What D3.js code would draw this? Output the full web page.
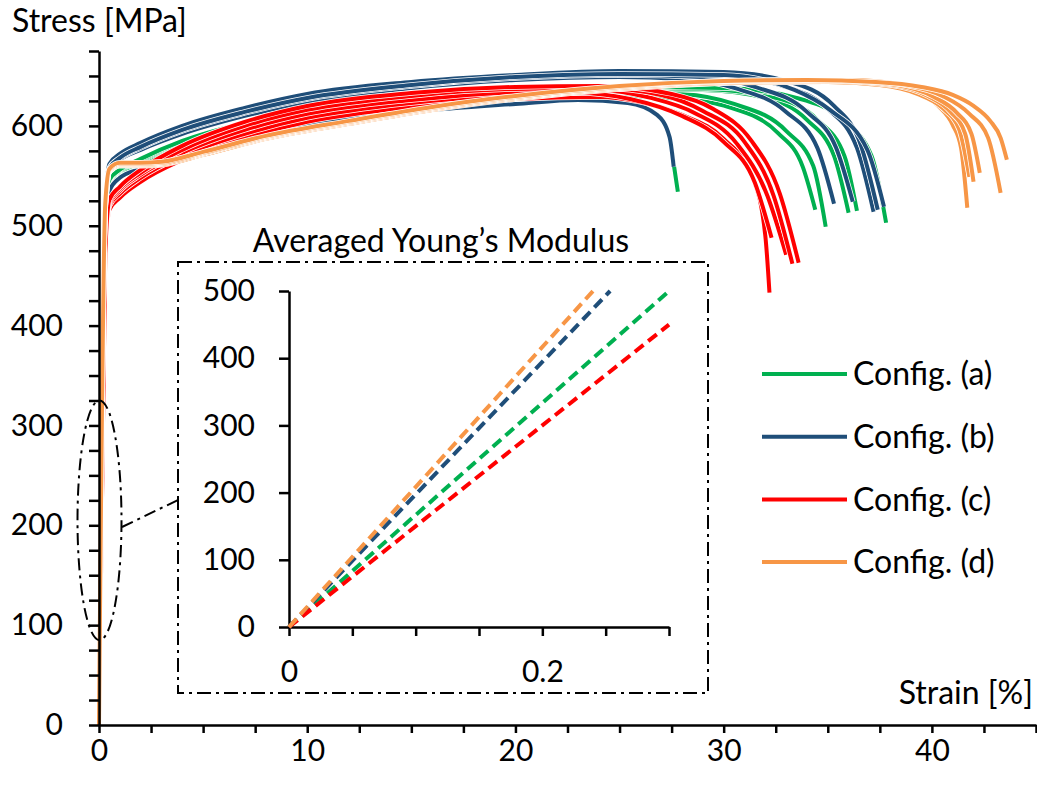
<!DOCTYPE html>
<html>
<head>
<meta charset="utf-8">
<script src="https://cdn.jsdelivr.net/npm/d3@7"></script>
<style>
  body { margin: 0; background: #fff; }
  svg { display: block; font-family: Lato, "Open Sans", sans-serif; }
  .axis path, .axis line { stroke: #000; stroke-width: 2.5; }
  .axis text { font-size: 30px; fill: #000; font-family: Lato, sans-serif; }
</style>
</head>
<body>
<svg id="chart" width="1037" height="787"></svg>
<script>
// configs + colours
var configs = ["Config. (a)", "Config. (b)", "Config. (c)", "Config. (d)"];
var colors = ["#00b050", "#1f4e79", "#ff0000", "#f79646"];

// tensile curves, [strain %, stress MPa]
var curvesA = [
  [[0,0],[0.3,480],[0.5,535],[1,548],[2,557],[4,571],[7,588],[10,601],[15,614],[20,622],[23,626],[25.4,623],[26.8,611],[27.4,589],[27.6,562],[27.8,534]],
  [[0,0],[0.3,490],[0.5,540],[1,551],[2,560],[4,576],[7,594],[10,607],[15,620],[20,628],[25,630],[28,627],[30.2,619],[32.6,593],[33.8,559],[34.4,516]],
  [[0,0],[0.3,495],[0.5,542],[1,553],[2,563],[4,580],[7,598],[10,611],[15,624],[20,631],[25,634],[28,632],[30.5,622],[33,595],[34.3,560],[34.9,499]],
  [[0,0],[0.3,495],[0.5,543],[1,554],[2,565],[4,583],[7,601],[10,614],[15,627],[20,634],[25,637],[29,636],[32,628],[34,606],[35.3,570],[36.0,513]],
  [[0,0],[0.3,498],[0.5,545],[1,555],[2,566],[4,584],[7,602],[10,615],[15,628],[20,635],[25,638],[29,637],[32.5,628],[34.5,606],[35.8,570],[36.4,515]],
  [[0,0],[0.3,500],[0.5,546],[1,556],[2,567],[4,585],[7,603],[10,616],[15,629],[20,636],[25,639],[30,638],[33.5,628],[35.7,606],[37.1,570],[37.8,503]]
];
var curvesB = [
  [[0,0],[0.3,480],[0.5,535],[1,548],[2,557],[4,571],[7,588],[10,601],[15,614],[20,622],[23,626],[25.4,623],[26.8,611],[27.4,589],[27.6,559]],
  [[0,0],[0.3,510],[0.5,555],[1,566],[2,576],[4,592],[7,610],[10,624],[15,638],[20,646],[25,649],[28,647],[30.5,638],[33,614],[34.5,578],[35.3,522]],
  [[0,0],[0.3,512],[0.5,557],[1,567],[2,578],[4,595],[7,613],[10,627],[15,640],[20,648],[25,651],[29,649],[31.5,639],[34,614],[35.4,578],[36.2,524]],
  [[0,0],[0.3,515],[0.5,559],[1,569],[2,580],[4,597],[7,615],[10,629],[15,642],[20,650],[25,653],[29.5,652],[32.5,642],[35,617],[36.4,578],[37.2,514]],
  [[0,0],[0.3,518],[0.5,562],[1,572],[2,583],[4,600],[7,618],[10,632],[15,644],[20,651],[25,655],[30,654],[33,645],[35.3,620],[36.6,580],[37.4,516]],
  [[0,0],[0.3,514],[0.5,558],[1,568],[2,579],[4,596],[7,614],[10,628],[15,641],[20,649],[25,652],[30,651],[33.4,636],[35.1,616],[36.9,576],[37.7,519]]
];
var curvesC = [
  [[0,0],[0.3,460],[0.5,516],[1,528],[2,544],[4,566],[7,588],[10,604],[15,619],[20,627],[24,629],[26,624],[28,611],[30,587],[31.4,548],[32.0,490],[32.2,433]],
  [[0,0],[0.3,465],[0.5,520],[1,532],[2,548],[4,570],[7,592],[10,608],[15,623],[20,631],[23,633],[25.5,627],[28,610],[30,584],[31.5,543],[32.3,488]],
  [[0,0],[0.3,468],[0.5,522],[1,535],[2,551],[4,573],[7,596],[10,612],[15,626],[20,634],[24,636],[26.5,628],[28.6,613],[30.6,583],[32.1,530],[33.0,471]],
  [[0,0],[0.3,470],[0.5,524],[1,537],[2,553],[4,576],[7,600],[10,616],[15,630],[20,637],[24,638],[27,631],[29,615],[31,584],[32.4,530],[33.3,462]],
  [[0,0],[0.3,472],[0.5,526],[1,539],[2,556],[4,580],[7,604],[10,620],[15,633],[20,639],[24,640],[27.5,632],[29.5,617],[31.3,586],[32.7,532],[33.6,463]]
];
var curvesD = [
  [[0,0],[0.3,518],[0.5,554],[1,560],[2,560],[3,561],[5,571],[8,587],[12,602],[16,616],[20,627],[25,637],[30,643],[35,645],[37,643],[39,635],[40.3,620],[41,601],[41.4,578],[41.7,518]],
  [[0,0],[0.3,518],[0.5,555],[1,561],[2,561],[3,562],[5,572],[8,588],[12,603],[16,617],[20,628],[25,638],[30,643],[35,644],[37.5,641],[39.3,632],[40.5,618],[41.3,597],[41.8,549]],
  [[0,0],[0.3,520],[0.5,555],[1,561],[2,561],[3,562],[5,572],[8,588],[12,603],[16,617],[20,628],[25,638],[30,644],[35,645],[38,641],[39.8,630],[40.9,614],[41.6,592],[42.0,544]],
  [[0,0],[0.3,520],[0.5,556],[1,562],[2,562],[3,563],[5,573],[8,589],[12,604],[16,618],[20,629],[25,639],[30,645],[35,646],[38.3,641],[40.1,629],[41.2,613],[41.9,592],[42.3,553]],
  [[0,0],[0.3,522],[0.5,556],[1,562],[2,562],[3,563],[5,573],[8,589],[12,604],[16,618],[20,629],[25,639],[30,645],[36,646],[38.7,641],[40.5,630],[41.8,612],[42.7,588],[43.3,533]],
  [[0,0],[0.3,522],[0.5,557],[1,563],[2,563],[3,564],[5,574],[8,590],[12,605],[16,619],[20,630],[25,640],[30,645],[34,646],[37.3,644],[39.5,639],[41,631],[42,620],[42.8,605],[43.3,588],[43.6,566]]
];
var groups = [curvesA, curvesB, curvesC, curvesD];

// inset: averaged young's modulus lines, end points from the origin
var insetEndStrain = [0.3, 0.2535, 0.3, 0.24];
var insetEndStress = [500, 500, 450, 500];

var svg = d3.select("#chart");

var x = d3.scaleLinear().domain([0, 45]).range([99, 1036]);
var y = d3.scaleLinear().domain([0, 675]).range([725, 51]);

var line = d3.line()
  .x(function(d) { return x(d[0]); })
  .y(function(d) { return y(d[1]); })
  .curve(d3.curveMonotoneX);

// curves, each with a thin white edge
groups.forEach(function(g, i) {
  g.forEach(function(c) {
    svg.append("path").attr("d", line(c))
      .attr("fill", "none").attr("stroke", "#fff").attr("stroke-width", 5.5)
      .attr("stroke-linejoin", "round");
    svg.append("path").attr("d", line(c))
      .attr("fill", "none").attr("stroke", colors[i]).attr("stroke-width", 4)
      .attr("stroke-linejoin", "round");
  });
});

// main axes
svg.append("g").attr("class", "axis")
  .attr("transform", "translate(" + x(0) + ",0)")
  .call(d3.axisLeft(y).tickValues(d3.range(0, 676, 25)).tickSize(10).tickSizeOuter(0).tickPadding(26)
    .tickFormat(function(d) { return d % 100 === 0 ? d : ""; }));

svg.append("g").attr("class", "axis")
  .attr("transform", "translate(0," + y(0) + ")")
  .call(d3.axisBottom(x).tickValues(d3.range(0, 45.1, 2.5)).tickSize(8).tickSizeOuter(0).tickPadding(7)
    .tickFormat(function(d) { return d % 10 === 0 ? d : ""; }));

svg.append("text").attr("x", 12).attr("y", 32).attr("font-size", 32).text("Stress [MPa]");
svg.append("text").attr("x", 1033).attr("y", 704).attr("font-size", 32)
  .attr("text-anchor", "end").text("Strain [%]");

// zoom ellipse and connector
var dashDot = "12,5,3,5";
svg.append("ellipse")
  .attr("cx", x(0) + 0.5).attr("cy", (y(85) + y(325)) / 2)
  .attr("rx", 22).attr("ry", (y(85) - y(325)) / 2)
  .attr("fill", "none").attr("stroke", "#000").attr("stroke-width", 2)
  .attr("stroke-dasharray", dashDot);
svg.append("line")
  .attr("x1", 122).attr("y1", 527).attr("x2", 178).attr("y2", 500)
  .attr("stroke", "#000").attr("stroke-width", 2).attr("stroke-dasharray", dashDot);

// inset box
svg.append("rect").attr("x", 178).attr("y", 262).attr("width", 530).attr("height", 431)
  .attr("fill", "#fff").attr("stroke", "#000").attr("stroke-width", 2)
  .attr("stroke-dasharray", "14,5,3,5");
svg.append("text").attr("x", 441).attr("y", 252).attr("font-size", 32)
  .attr("text-anchor", "middle").text("Averaged Young\u2019s Modulus");

var xi = d3.scaleLinear().domain([0, 0.3]).range([289, 669]);
var yi = d3.scaleLinear().domain([0, 500]).range([627, 291]);

svg.append("g").attr("class", "axis")
  .attr("transform", "translate(" + xi(0) + ",0)")
  .call(d3.axisLeft(yi).tickValues(d3.range(0, 501, 100)).tickSize(10).tickSizeOuter(0).tickPadding(24));

svg.append("g").attr("class", "axis")
  .attr("transform", "translate(0," + yi(0) + ")")
  .call(d3.axisBottom(xi).tickValues(d3.range(0, 0.301, 0.05)).tickSize(9).tickSizeOuter(0).tickPadding(25)
    .tickFormat(function(d, i) { return i === 0 ? "0" : (i === 4 ? "0.2" : ""); }));

insetEndStrain.forEach(function(s, i) {
  svg.append("line")
    .attr("x1", xi(0)).attr("y1", yi(0))
    .attr("x2", xi(s)).attr("y2", yi(insetEndStress[i]))
    .attr("stroke", colors[i]).attr("stroke-width", 4)
    .attr("stroke-dasharray", "11,6");
});

// legend
configs.forEach(function(c, i) {
  var ly = 374 + i * 62.7;
  svg.append("line").attr("x1", 762).attr("x2", 847).attr("y1", ly).attr("y2", ly)
    .attr("stroke", colors[i]).attr("stroke-width", 4);
  svg.append("text").attr("x", 853).attr("y", ly).attr("dy", "0.35em")
    .attr("font-size", 32).text(c);
});
</script>
</body>
</html>
